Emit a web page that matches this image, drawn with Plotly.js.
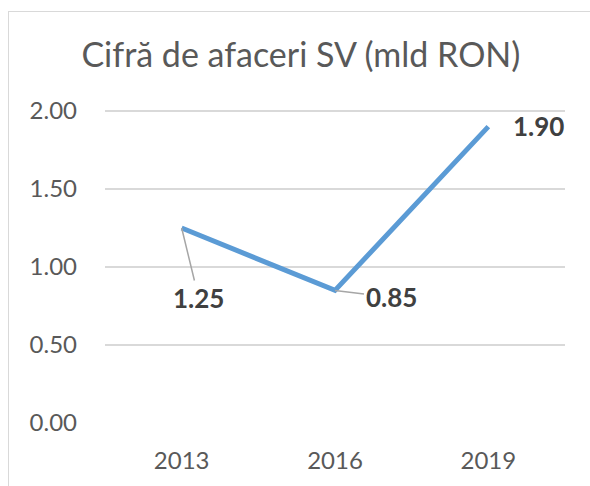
<!DOCTYPE html>
<html>
<head>
<meta charset="utf-8">
<script src="https://cdn.plot.ly/plotly-3.0.1.min.js"></script>
<style>
html,body{margin:0;padding:0;background:#fff;}
#wrap{position:relative;width:590px;height:486px;overflow:hidden;}
#chart{position:absolute;left:0;top:0;width:590px;height:486px;}
#frame{position:absolute;left:8px;top:11px;width:600px;height:500px;border:1.5px solid #d9d9d9;pointer-events:none;}
</style>
</head>
<body>
<div id="wrap"><div id="chart"></div><div id="frame"></div></div>
<script>
const years = ['2013', '2016', '2019'];
const values = [1.25, 0.85, 1.90];
const valueLabels = ['1.25', '0.85', '1.90'];
const yTicks = [0, 0.5, 1, 1.5, 2];
const yTickLabels = ['0.00', '0.50', '1.00', '1.50', '2.00'];
const chartTitle = 'Cifră de afaceri SV (mld RON)';

const FONT = 'Lato, sans-serif';

const trace = {
  x: years,
  y: values,
  type: 'scatter',
  mode: 'lines',
  line: {color: '#5B9BD5', width: 5},
  hoverinfo: 'skip'
};

// label placement (pixel offsets from each point)
const labelOffsets = [
  {ax: 17, ay: 70, arrow: true},
  {ax: 56, ay: 7, arrow: true},
  {ax: 50, ay: -1, arrow: false}
];

const annotations = years.map((yr, i) => {
  const o = labelOffsets[i];
  const a = {
    x: i, y: values[i], xref: 'x', yref: 'y',
    text: '<b>' + valueLabels[i] + '</b>',
    font: {family: FONT, size: 26, color: '#404040'},
    showarrow: o.arrow
  };
  if (o.arrow) {
    a.ax = o.ax; a.ay = o.ay; a.axref = 'pixel'; a.ayref = 'pixel';
    a.arrowhead = 0; a.arrowwidth = 1.5;
    a.arrowcolor = '#a6a6a6'; a.standoff = 0;
  } else {
    a.xshift = o.ax; a.yshift = -o.ay;
  }
  return a;
});

const layout = {
  width: 590, height: 486,
  margin: {l: 105, r: 25, t: 109, b: 63},
  paper_bgcolor: '#ffffff',
  plot_bgcolor: '#ffffff',
  showlegend: false,
  title: {
    text: chartTitle,
    font: {family: FONT, size: 34, color: '#595959'},
    x: 0.51, xanchor: 'center',
    y: 1 - 55 / 486, yanchor: 'middle', yref: 'container'
  },
  xaxis: {
    type: 'category',
    range: [-0.5, 2.5],
    showgrid: false, zeroline: false, showline: false,
    ticks: '', ticklabelstandoff: 21,
    tickfont: {family: FONT, size: 24, color: '#595959'}
  },
  yaxis: {
    range: [0, 2.0128],
    tickvals: yTicks, ticktext: yTickLabels,
    showgrid: true, gridcolor: '#d9d9d9', gridwidth: 1.5,
    zeroline: false, showline: false,
    ticks: '', ticklabelstandoff: 27,
    tickfont: {family: FONT, size: 24, color: '#595959'}
  },
  annotations: annotations
};

Plotly.newPlot('chart', [trace], layout, {displayModeBar: false, staticPlot: true});
</script>
</body>
</html>
